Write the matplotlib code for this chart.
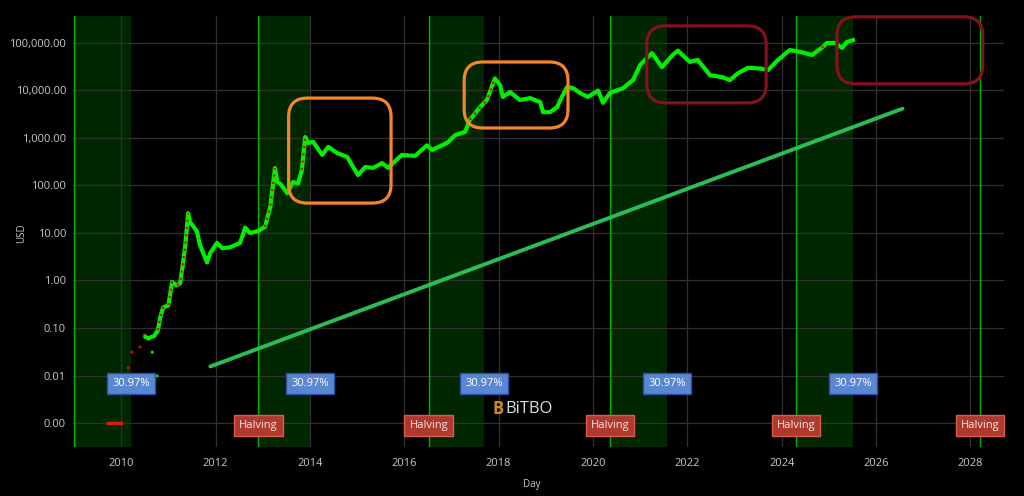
import numpy as np
import matplotlib.pyplot as plt
from matplotlib.patches import FancyBboxPatch
from matplotlib.ticker import FixedLocator, FuncFormatter

plt.rcParams['font.family'] = ['Open Sans', 'DejaVu Sans']

# ----- data (decimal year, USD) -----
# pre-market prices shown flat at the bottom
early_years = [2009.72, 2009.80, 2009.88, 2009.96, 2010.0]
early_usd = [0.001, 0.001, 0.001, 0.001, 0.001]

# sparse first trades (dots)
sparse_years = [2010.06, 2010.15, 2010.23, 2010.40, 2010.49, 2010.66, 2010.76]
sparse_usd = [0.0041, 0.0145, 0.031, 0.040, 0.071, 0.031, 0.0098]
sparse_rally = [True, True, True, True, True, False, False]

price_years = [
    2010.52, 2010.58, 2010.64, 2010.70, 2010.78, 2010.83, 2010.89, 2011.00,
    2011.08, 2011.17, 2011.25, 2011.31, 2011.36, 2011.42, 2011.46, 2011.55,
    2011.61, 2011.67, 2011.78, 2011.82, 2011.89, 2012.03, 2012.14, 2012.31,
    2012.52, 2012.63, 2012.73, 2012.90, 2013.05, 2013.16, 2013.26, 2013.31,
    2013.37, 2013.52, 2013.64, 2013.75, 2013.83, 2013.90, 2013.96, 2014.07,
    2014.26, 2014.39, 2014.58, 2014.79, 2015.02, 2015.17, 2015.34, 2015.53,
    2015.66, 2015.76, 2015.95, 2016.23, 2016.48, 2016.59, 2016.91, 2017.08,
    2017.29, 2017.39, 2017.61, 2017.75, 2017.92, 2018.03, 2018.09, 2018.24,
    2018.45, 2018.67, 2018.88, 2018.94, 2019.09, 2019.24, 2019.34, 2019.45,
    2019.58, 2019.72, 2019.89, 2020.11, 2020.21, 2020.36, 2020.64, 2020.85,
    2021.00, 2021.25, 2021.46, 2021.69, 2021.80, 2022.05, 2022.22, 2022.48,
    2022.75, 2022.90, 2023.07, 2023.28, 2023.54, 2023.71, 2023.92, 2024.17,
    2024.39, 2024.64, 2024.85, 2024.96, 2025.13, 2025.28, 2025.38, 2025.51,
]
price_usd = [
    0.065, 0.060, 0.065, 0.068, 0.09, 0.17, 0.27, 0.30,
    0.93, 0.80, 0.87, 2.3, 5.6, 26, 17, 13,
    10.5, 5.6, 3.0, 2.4, 3.8, 6.2, 4.8, 5.0,
    6.2, 13, 10, 11, 13.5, 35, 233, 118,
    110, 69, 118, 110, 213, 1050, 790, 830,
    440, 650, 480, 400, 165, 245, 235, 295,
    235, 295, 440, 420, 700, 560, 790, 1150,
    1340, 2400, 4500, 6300, 18000, 13000, 7300, 9300,
    6300, 6900, 5700, 3500, 3500, 4500, 7300, 11800,
    11200, 8900, 7300, 10000, 5500, 8900, 11200, 16700,
    34500, 61000, 31000, 56000, 69000, 40000, 44000, 21000,
    19000, 16500, 23000, 30000, 29000, 27000, 44000, 71000,
    65000, 56000, 79000, 100000, 100000, 79000, 105000, 115000,
]

# periods where the chart marks the price in red
rally_periods = [(2010.76, 2011.43), (2013.0, 2013.27), (2013.80, 2013.91),
                 (2017.35, 2017.93), (2020.90, 2021.01), (2024.84, 2024.97),
                 (2025.45, 2025.52)]

# regression line end points
trend_years = [2011.89, 2026.56]
trend_usd = [0.0155, 4150]

halving_years = [2012.91, 2016.52, 2020.36, 2024.30, 2028.20]
band_starts = [2009.0, 2012.91, 2016.52, 2020.36, 2024.30]
band_ends = [2010.21, 2014.0, 2017.69, 2021.57, 2025.51]
band_label = '30.97%'

# highlight boxes: (year0, year1, usd_low, usd_high, colour)
highlight_boxes = [
    (2013.55, 2015.72, 10 ** 1.63, 10 ** 3.84, '#f5842a'),
    (2017.27, 2019.47, 10 ** 3.21, 10 ** 4.60, '#f5842a'),
    (2021.14, 2023.67, 10 ** 3.74, 10 ** 5.36, '#86101f'),
    (2025.17, 2028.26, 10 ** 4.14, 10 ** 5.55, '#86101f'),
]

# ----- plot -----
fig = plt.figure(figsize=(10.24, 4.96), dpi=100, facecolor='black')
ax = fig.add_axes([73 / 1024, 1 - 447 / 496, 931 / 1024, 431 / 496])
ax.set_facecolor('black')
ax.set_yscale('log')
ax.set_xlim(2008.98, 2028.71)
ax.set_ylim(10 ** -3.505, 10 ** 5.568)

for s, e in zip(band_starts, band_ends):
    ax.axvspan(s, e, color='#002700', lw=0, zorder=0)
for s in band_starts + [halving_years[-1]]:
    ax.axvline(s, color='#00b400', lw=1, zorder=1)

ax.grid(True, color='#303030', lw=0.9, zorder=0.5)
ax.set_axisbelow(True)
for sp in ax.spines.values():
    sp.set_visible(False)

ax.plot(trend_years, trend_usd, color='#2bbd55', lw=2.8, solid_capstyle='round', zorder=3)

ax.plot(early_years, early_usd, color='#d81e05', lw=2.5, zorder=4)
sp_col = ['#e00000' if r else '#00ee00' for r in sparse_rally]
ax.scatter(sparse_years, sparse_usd, s=5, c=sp_col, lw=0, zorder=4)

py = np.array(price_years)
pu = np.array(price_usd)
ax.plot(py, pu, color='#00f000', lw=3.0, solid_joinstyle='round', zorder=4)
for s, e in rally_periods:
    m = (py >= s) & (py <= e)
    ax.plot(py[m], pu[m], color='#e00000', lw=1.5, ls=(0, (1, 2.5)), zorder=5)

# rounded highlight boxes (drawn in axes fraction so corners stay round)
ax_w = 931.0
ax_h = 431.0
to_frac = ax.transData + ax.transAxes.inverted()
for x0, x1, y0, y1, col in highlight_boxes:
    (fx0, fy0), (fx1, fy1) = to_frac.transform([(x0, y0), (x1, y1)])
    box = FancyBboxPatch((fx0, fy0), fx1 - fx0, fy1 - fy0,
                         boxstyle='round,pad=0,rounding_size=0.02',
                         mutation_aspect=ax_w / ax_h,
                         transform=ax.transAxes, fill=False, ec=col, lw=2.3,
                         zorder=6, clip_on=False)
    ax.add_patch(box)

for x in band_ends:
    ax.text(x, 0.0069, band_label, ha='center', va='center', fontsize=8,
            color='white', zorder=7,
            bbox=dict(boxstyle='square,pad=0.45', fc='#5a87d2', ec='#2c4ea8', lw=1))
for x in halving_years:
    ax.text(x, 0.00088, 'Halving', ha='center', va='center', fontsize=8,
            color='#f2e4e4', zorder=7,
            bbox=dict(boxstyle='square,pad=0.45', fc='#ad3a2d', ec='#d85c4c', lw=1))

ax.xaxis.set_major_locator(FixedLocator(list(range(2010, 2029, 2))))
ax.xaxis.set_major_formatter(FuncFormatter(lambda v, p: f'{int(round(v))}'))
ax.yaxis.set_major_locator(FixedLocator([10.0 ** k for k in range(-3, 6)]))
ax.yaxis.set_minor_locator(FixedLocator([]))
ax.yaxis.set_major_formatter(FuncFormatter(lambda v, p: f'{v:,.2f}'))
ax.tick_params(colors='#c8c8c8', labelsize=8, length=0, pad=5)
ax.tick_params(axis='x', pad=8)

fig.text(22 / 1024, 1 - 233 / 496, 'USD', rotation=90, color='#c8c8c8',
         fontsize=7, ha='center', va='center')
fig.text(532 / 1024, 1 - 484 / 496, 'Day', color='#c8c8c8', fontsize=7,
         ha='center', va='center')

# watermark
fig.text(498 / 1024, 1 - 409 / 496, 'B', color='#d48a1a', fontsize=12,
         fontweight='bold', ha='center', va='center')
fig.text(505 / 1024, 1 - 409 / 496, 'BiTBO', color='#dcdcdc', fontsize=12,
         ha='left', va='center')

fig.savefig('out.png', dpi=100, facecolor='black')
